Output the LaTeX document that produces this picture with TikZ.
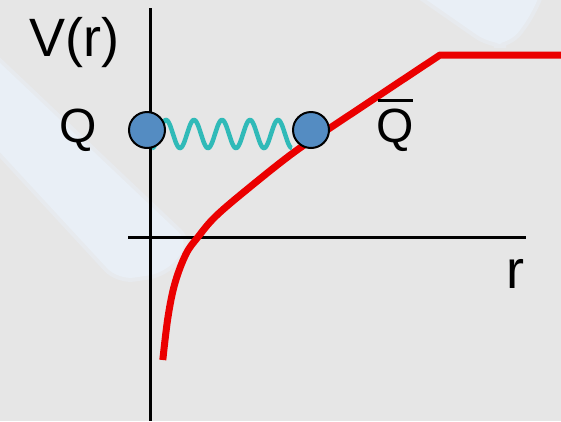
\documentclass[tikz,border=0pt]{standalone}
\usepackage{fontspec}
\setmainfont{Liberation Sans}
\definecolor{bgcol}{RGB}{230,230,230}
\definecolor{bandcol}{RGB}{233,239,246}
\definecolor{curvecol}{RGB}{235,0,0}
\definecolor{springcol}{RGB}{48,186,184}
\definecolor{quarkcol}{RGB}{84,140,194}
\tikzset{
  axisline/.style={line width=3pt, black},
  potential/.style={line width=7pt, curvecol},
  springline/.style={line width=4.5pt, springcol},
  quark/.style={circle, draw=black, line width=2pt, fill=quarkcol, minimum size=36pt, inner sep=0pt},
  lbl/.style={inner sep=0pt, anchor=base west, font=\fontsize{54}{60}\selectfont},
  qlbl/.style={inner sep=0pt, anchor=base west, font=\fontsize{48}{54}\selectfont},
  bandedge/.style={draw=bandcol!50!bgcol, fill=bandcol!50!bgcol, line width=8pt, rounded corners=16pt},
  band/.style={fill=bandcol, rounded corners=16pt}
}
\begin{document}
\begin{tikzpicture}[x=1pt,y=-1pt]
\useasboundingbox (0,0) rectangle (561,421);
\fill[bgcol] (0,0) rectangle (561,421);
% faint watermark bands
\path[bandedge] (-40,25) -- (190,243) -- (165,273) -- (118,280) -- (-40,109) -- cycle;
\path[band] (-40,25) -- (190,243) -- (165,273) -- (118,280) -- (-40,109) -- cycle;
\path[bandedge] (398,-20) -- (545,-20) -- (533,12) -- (510,44) -- (490,44) -- cycle;
\path[band] (398,-20) -- (545,-20) -- (533,12) -- (510,44) -- (490,44) -- cycle;
% axes
\coordinate (ytop) at (150,8);
\coordinate (ybot) at (150,421);
\coordinate (xleft) at (128,237);
\coordinate (xright) at (526,237);
\draw[axisline] (ytop) -- (ybot);
\draw[axisline] (xleft) -- (xright);
% potential
\coordinate (kink) at (440,55);
\coordinate (rend) at (562,55);
\draw[potential, line join=round] plot[smooth, tension=0.6] coordinates {(162.8,360) (168,317) (175,283) (186,254) (198,237) (216,216) (250,187) (293,153) (330,128) (440,55)} -- (rend);
% spring
\draw[springline] plot[domain=0:140, samples=240, smooth] ({152+\x},{134+14*cos(\x/28*360)});
% quarks
\node[quark] (qL) at (147,130) {};
\node[quark] (qR) at (311,130) {};
% labels
\node[lbl] (vr) at (29,56) {V(r)};
\node[qlbl] (q) at (59,142) {Q};
\node[qlbl] (qbar) at (376,142) {Q};
\draw[line width=2.5pt] ([yshift=8pt,xshift=2pt]qbar.north west) -- ([yshift=8pt,xshift=-1pt]qbar.north east);
\node[lbl] (r) at (506,288) {r};
\end{tikzpicture}
\end{document}
